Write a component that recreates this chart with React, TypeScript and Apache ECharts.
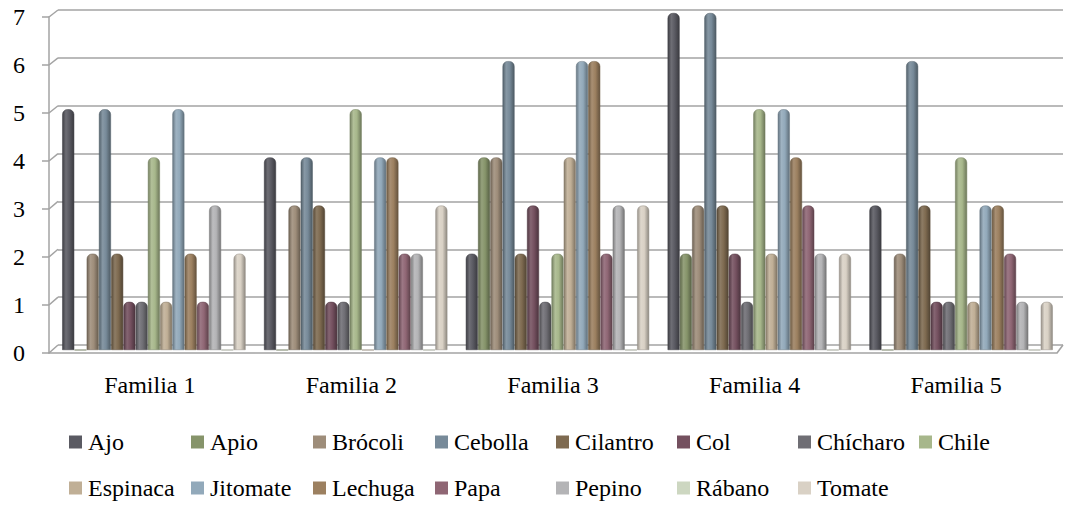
import React, { useEffect, useRef } from "react";
import * as echarts from "echarts";

const categories = ["Familia 1", "Familia 2", "Familia 3", "Familia 4", "Familia 5"];
const seriesNames = [
  "Ajo", "Apio", "Brócoli", "Cebolla", "Cilantro", "Col", "Chícharo", "Chile",
  "Espinaca", "Jitomate", "Lechuga", "Papa", "Pepino", "Rábano", "Tomate",
];
const ajo = [5, 4, 2, 7, 3];
const apio = [0, 0, 4, 2, 0];
const brocoli = [2, 3, 4, 3, 2];
const cebolla = [5, 4, 6, 7, 6];
const cilantro = [2, 3, 2, 3, 3];
const col = [1, 1, 3, 2, 1];
const chicharo = [1, 1, 1, 1, 1];
const chile = [4, 5, 2, 5, 4];
const espinaca = [1, 0, 4, 2, 1];
const jitomate = [5, 4, 6, 5, 3];
const lechuga = [2, 4, 6, 4, 3];
const papa = [1, 2, 2, 3, 2];
const pepino = [3, 2, 3, 2, 1];
const rabano = [0, 0, 0, 0, 0];
const tomate = [2, 3, 3, 2, 1];
const seriesValues = [
  ajo, apio, brocoli, cebolla, cilantro, col, chicharo, chile,
  espinaca, jitomate, lechuga, papa, pepino, rabano, tomate,
];
const yTickValues = [0, 1, 2, 3, 4, 5, 6, 7];

const colors = [
  "#5a5a62", "#86946a", "#9e8d7a", "#778a99", "#7e6a50", "#74505f", "#6f6e74", "#a7b78b",
  "#c0af96", "#92a9ba", "#9c8060", "#8f6674", "#b4b4b6", "#cdd7c1", "#d9d1c5",
];

// layout
const FONT = "Liberation Serif";
const GRID_COLOR = "#a3a3a3";
const FRONT = { left: 49, right: 10, top: 17, bottom: 153 };
const BARS = { left: 53, right: 5, top: 13, bottom: 156 };
const BACK = { left: 58, right: 4, top: 10, bottom: 161 };
const legendCols = [69, 191, 313, 435, 556, 677, 798, 919];
const legendRows = [443, 489];

function shade(hex: string, f: number): string {
  const n = parseInt(hex.slice(1), 16);
  let r = (n >> 16) & 255, g = (n >> 8) & 255, b = n & 255;
  const t = f < 0 ? 0 : 255;
  const p = Math.abs(f);
  r = Math.round(r + (t - r) * p);
  g = Math.round(g + (t - g) * p);
  b = Math.round(b + (t - b) * p);
  return "rgb(" + r + "," + g + "," + b + ")";
}

export default function App() {
  const ref = useRef<HTMLDivElement>(null);
  useEffect(() => {
    if (!ref.current) return;
    const chart = echarts.init(ref.current, null, { renderer: "svg" });

    const legends = seriesNames.map((name, i) => ({
      left: legendCols[i < 8 ? i : i - 8],
      top: legendRows[i < 8 ? 0 : 1] - 13,
      padding: 0,
      itemWidth: 13,
      itemHeight: 13,
      icon: "rect",
      selectedMode: false,
      itemStyle: { color: colors[i], borderWidth: 0 },
      textStyle: { fontSize: 24, fontFamily: FONT, color: "#000", padding: [0, 0, 0, 1] },
      data: [{ name }],
    }));

    const series = seriesNames.map((name, i) => ({
      name,
      type: "bar",
      xAxisIndex: 0,
      yAxisIndex: 0,
      barWidth: 12,
      barGap: "2%",
      data: seriesValues[i],
      itemStyle: {
        color: new echarts.graphic.LinearGradient(0, 0, 1, 0, [
          { offset: 0, color: shade(colors[i], -0.3) },
          { offset: 0.3, color: shade(colors[i], 0.12) },
          { offset: 0.6, color: colors[i] },
          { offset: 1, color: shade(colors[i], -0.35) },
        ]),
        borderColor: shade(colors[i], -0.3),
        borderWidth: 0.5,
        borderRadius: [5, 5, 0, 0],
      },
    }));

    const option: any = {
      animation: false,
      backgroundColor: "#fff",
      legend: legends,
      grid: [
        { ...BARS },
        { ...FRONT },
        { ...BACK },
      ],
      xAxis: [
        { gridIndex: 0, type: "category", data: categories, show: false },
        {
          gridIndex: 1,
          type: "category",
          data: categories,
          axisLine: { lineStyle: { color: GRID_COLOR, width: 1.5 } },
          axisTick: { length: 6, lineStyle: { color: GRID_COLOR, width: 1.5 } },
          axisLabel: { fontSize: 24, fontFamily: FONT, color: "#000", margin: 20 },
        },
        { gridIndex: 2, type: "category", data: categories, show: false },
      ],
      yAxis: [
        { gridIndex: 0, type: "value", min: 0, max: 7, interval: 1, show: false },
        {
          gridIndex: 1,
          type: "value",
          min: 0,
          max: 7,
          interval: 1,
          axisLine: { show: true, lineStyle: { color: GRID_COLOR, width: 1.5 } },
          axisTick: { show: true, length: 7, lineStyle: { color: GRID_COLOR, width: 1.5 } },
          axisLabel: { fontSize: 24, fontFamily: FONT, color: "#000", margin: 24 },
          splitLine: { show: false },
        },
        {
          gridIndex: 2,
          type: "value",
          min: 0,
          max: 7,
          interval: 1,
          axisLine: { show: false },
          axisTick: { show: false },
          axisLabel: { show: false },
          splitLine: { show: true, lineStyle: { color: GRID_COLOR, width: 1.5 } },
        },
      ],
      series,
    };
    chart.setOption(option);

    const frontX = FRONT.left;
    const backX = BACK.left;
    const frontRight = 1067 - FRONT.right;
    const backRight = 1067 - BACK.right;
    const elements: any[] = yTickValues.map((v) => {
      const fy = chart.convertToPixel({ yAxisIndex: 1 } as any, v) as number;
      const by = chart.convertToPixel({ yAxisIndex: 2 } as any, v) as number;
      return {
        type: "line",
        shape: { x1: frontX, y1: fy, x2: backX, y2: by },
        style: { stroke: GRID_COLOR, lineWidth: 1.5 },
        silent: true,
      };
    });
    const f0 = chart.convertToPixel({ yAxisIndex: 1 } as any, 0) as number;
    const b0 = chart.convertToPixel({ yAxisIndex: 2 } as any, 0) as number;
    elements.push({
      type: "line",
      shape: { x1: frontRight, y1: f0, x2: backRight, y2: b0 },
      style: { stroke: GRID_COLOR, lineWidth: 1.5 },
      silent: true,
    });
    chart.setOption({ graphic: { elements } });

    return () => chart.dispose();
  }, []);
  return (
    <div
      ref={ref}
      style={{ position: "fixed", left: 0, top: 0, width: 1067, height: 506, background: "#fff" }}
    />
  );
}
